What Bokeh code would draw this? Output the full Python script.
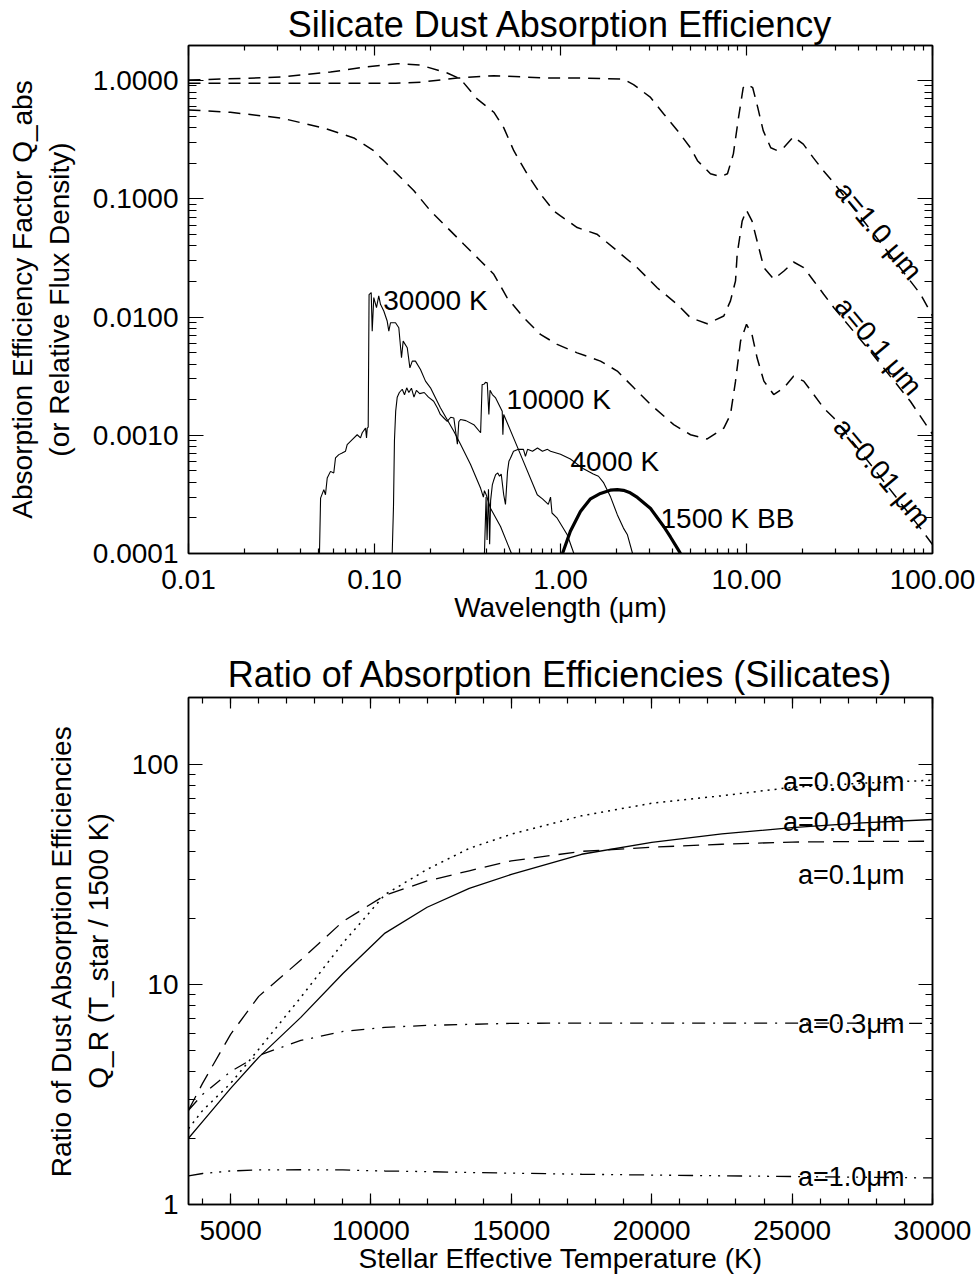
import math
from bokeh.plotting import figure
from bokeh.models import LogAxis, LinearAxis, FixedTicker, PrintfTickFormatter, Range1d
from bokeh.layouts import column
from bokeh.embed import file_html
from bokeh.resources import INLINE
from bokeh.core.properties import value

FONT = "Liberation Sans"

# ---------------- Top panel data (wavelength in micron) ----------------
qa10_wl = [0.01, 0.04, 0.13, 0.177, 0.279, 0.437, 0.851, 1.33, 2.18, 2.47, 3.05, 3.58, 4.26, 5.0, 5.45,
           6.4, 7.25, 7.9, 8.5, 9.06, 9.6, 10.1, 10.8, 11.5, 12.3, 13.5, 14.7, 15.8, 17.9, 20.2, 22.9,
           25.9, 29.4, 46.5, 86.0, 100.0]
qa10_q = [0.95, 0.95, 0.95, 0.97, 1.05, 1.10, 1.05, 1.05, 1.03, 0.925, 0.72, 0.525, 0.377, 0.27, 0.21,
          0.163, 0.154, 0.163, 0.24, 0.486, 0.87, 0.925, 0.87, 0.59, 0.377, 0.27, 0.255, 0.27, 0.335, 0.29,
          0.222, 0.173, 0.137, 0.0546, 0.0157, 0.0102]

qa01_wl = [0.01, 0.0313, 0.058, 0.0914, 0.1325, 0.177, 0.246, 0.29, 0.356, 0.438, 0.495, 0.561, 0.662,
           0.78, 0.92, 1.0, 1.23, 1.57, 2.02, 2.58, 3.31, 4.24, 5.0, 6.15, 7.55, 8.2, 8.73, 8.91, 9.48,
           10.0, 10.7, 11.4, 12.4, 14.0, 15.9, 17.9, 20.3, 23.0, 26.0, 29.5, 46.5, 76.0, 89.8, 100.0]
qa01_q = [1.01, 1.07, 1.18, 1.31, 1.39, 1.35, 1.16, 1.03, 0.70, 0.54, 0.40, 0.255, 0.162,
          0.110, 0.079, 0.0718, 0.0571, 0.0502, 0.0362, 0.0262, 0.0177, 0.0128, 0.00986, 0.00877, 0.0102,
          0.0137, 0.0202, 0.034, 0.065, 0.080, 0.065, 0.044, 0.0262, 0.0209, 0.0245, 0.0292, 0.0262,
          0.0202, 0.0156, 0.0120, 0.00508, 0.00194, 0.00131, 0.00102]

qa001_wl = [0.01, 0.0168, 0.0313, 0.0533, 0.0775, 0.099, 0.127, 0.163, 0.2, 0.246, 0.302, 0.372, 0.438,
            0.516, 0.635, 0.78, 0.96, 1.23, 1.64, 2.02, 2.48, 3.05, 4.06, 5.0, 6.15, 7.55, 8.2, 8.73,
            9.29, 10.0, 10.7, 11.4, 12.4, 14.0, 15.9, 17.9, 20.3, 23.0, 26.0, 29.5, 46.5, 86.0, 100.0]
qa001_q = [0.565, 0.539, 0.483, 0.397, 0.327, 0.255, 0.173, 0.117, 0.079, 0.0571, 0.0413, 0.0298, 0.0230,
           0.0146, 0.00986, 0.00713, 0.00587, 0.00498, 0.00424, 0.00349, 0.00252, 0.00182, 0.00123,
           0.00101, 0.00093, 0.00115, 0.0015, 0.00287, 0.00626, 0.00867, 0.00713, 0.00452, 0.00287,
           0.00221, 0.00252, 0.00316, 0.00287, 0.00221, 0.0017, 0.0014, 0.000565, 0.000164, 0.000119]

s30000_wl = [0.0506, 0.0513, 0.0534, 0.0545, 0.0557, 0.058, 0.0604, 0.0617, 0.0643, 0.067, 0.0698, 0.0713,
             0.0759, 0.0807, 0.0841, 0.0859, 0.0895, 0.0906, 0.0914, 0.0925, 0.0935, 0.096, 0.0972, 0.0991,
             0.1025, 0.1054, 0.1077, 0.1122, 0.117, 0.1194, 0.1219, 0.1297, 0.1351, 0.1397, 0.1426, 0.150,
             0.155, 0.1596, 0.166, 0.1767, 0.188, 0.2, 0.2264, 0.267, 0.29, 0.328, 0.372, 0.385, 0.39,
             0.398, 0.421, 0.476, 0.545]
s30000_f = [1.0e-4, 0.000294, 0.000347, 0.000314, 0.000435, 0.000495, 0.00048, 0.000643, 0.000686, 0.000708,
            0.000732, 0.000833, 0.00092, 0.00101, 0.00095, 0.00105, 0.00115, 0.00095, 0.00115, 0.00117,
            0.0155, 0.0161, 0.0076, 0.0146, 0.012, 0.0151, 0.0128, 0.01125, 0.00925, 0.0076, 0.00895,
            0.00895, 0.00811, 0.00452, 0.00626, 0.0055, 0.00372, 0.00424, 0.00424, 0.0036, 0.00287,
            0.00252, 0.0017, 0.00108, 0.00084, 0.000568, 0.000356, 0.0003, 0.00034, 0.000316, 0.00024,
            0.000169, 1.0e-4]

s10000_wl = [0.1245, 0.1265, 0.128, 0.130, 0.1325, 0.136, 0.141, 0.145, 0.149, 0.153, 0.158, 0.163, 0.168,
             0.175, 0.185, 0.195, 0.208, 0.218, 0.226, 0.236, 0.246, 0.257, 0.267, 0.279, 0.284, 0.29,
             0.31, 0.342, 0.372, 0.379, 0.387, 0.395, 0.404, 0.412, 0.418, 0.43, 0.448, 0.486, 0.49,
             0.495, 0.61, 0.75, 0.80, 0.86, 0.884, 0.9, 0.96, 1.087, 1.18]
s10000_f = [1.0e-4, 0.00025, 0.0009, 0.0016, 0.0021, 0.0023, 0.00245, 0.0022, 0.00252, 0.0023, 0.0025,
            0.0021, 0.0024, 0.00225, 0.0023, 0.0021, 0.00194, 0.0017, 0.0015, 0.0014, 0.00131, 0.00142,
            0.0014, 0.00084, 0.0013, 0.00136, 0.00133, 0.00123, 0.00105, 0.00269, 0.0027, 0.0028, 0.00278,
            0.0015, 0.0024, 0.00221, 0.00207, 0.0016, 0.00101, 0.0015, 0.000686, 0.000314, 0.00029,
            0.00026, 0.0003, 0.00022, 0.000199, 0.000144, 1.0e-4]

s4000_wl = [0.39, 0.398, 0.403, 0.41, 0.416, 0.421, 0.43, 0.436, 0.448, 0.46, 0.47, 0.48, 0.495, 0.506,
            0.519, 0.528, 0.538, 0.559, 0.594, 0.632, 0.648, 0.665, 0.707, 0.752, 0.80, 0.851, 0.884, 1.0,
            1.13, 1.33, 1.5, 1.6, 1.70, 1.86, 2.02, 2.18, 2.29, 2.44]
s4000_f = [1.0e-4, 0.0003, 0.00013, 0.00035, 0.00012, 0.00028, 0.00038, 0.00041, 0.000465, 0.00048,
           0.00045, 0.00047, 0.000314, 0.00026, 0.000495, 0.000602, 0.000638, 0.000732, 0.00076, 0.00076,
           0.000664, 0.00076, 0.000732, 0.00078, 0.000732, 0.00076, 0.000732, 0.00069, 0.00063, 0.00052,
           0.00047, 0.00045, 0.0004, 0.0003, 0.000213, 0.000164, 0.000144, 1.0e-4]

bb1500_wl = [1.025, 1.13, 1.28, 1.45, 1.64, 1.85, 2.02, 2.18, 2.37, 2.59, 3.05, 3.58, 3.90, 4.26, 4.42]
bb1500_f = [1.0e-4, 0.000154, 0.000227, 0.000290, 0.000322, 0.000343, 0.000347, 0.000342, 0.000326,
            0.000298, 0.000240, 0.000170, 0.000138, 0.000110, 1.0e-4]

# top panel ticks
wl_major = [0.01, 0.1, 1.0, 10.0, 100.0]
wl_minor = [m * 10.0 ** e for e in range(-2, 2) for m in range(2, 10)]
q_major = [0.0001, 0.001, 0.01, 0.1, 1.0]
q_minor = [m * 10.0 ** e for e in range(-4, 0) for m in range(2, 10)]

# top panel annotations
spec_labels = ["30000 K", "10000 K", "4000 K", "1500 K BB"]
spec_label_x = [0.1115, 0.513, 1.132, 3.45]
spec_label_y = [0.01367, 0.00202, 0.000602, 0.000198]
size_labels = ["a=1.0 μm", "a=0.1 μm", "a=0.01 μm"]
size_label_x = [51.3, 51.3, 53.7]
size_label_y = [0.0536, 0.00568, 0.00048]

# ---------------- Bottom panel data ----------------
teff = [3500, 4000, 5000, 6000, 7500, 9000, 10500, 12000, 13500, 15000, 17500, 20000, 22500, 25000,
        27500, 30000]
qr_a001 = [2.0, 2.38, 3.37, 4.66, 7.08, 11.2, 17.1, 22.4, 27.3, 31.6, 39.0, 44.2, 48.3, 51.5, 54.2, 56.1]
qr_a003 = [2.21, 2.67, 3.55, 5.07, 8.73, 15.4, 25.6, 33.3, 41.5, 48.1, 58.3, 66.5, 71.9, 78.6, 82.0, 84.6]
qr_a01 = [2.68, 3.55, 5.93, 8.82, 12.9, 19.3, 25.4, 29.5, 32.8, 36.4, 40.2, 42.0, 43.3, 44.3, 44.6, 44.7]
qr_a03 = [2.68, 3.16, 4.02, 4.76, 5.56, 6.11, 6.38, 6.51, 6.58, 6.65, 6.67, 6.67, 6.67, 6.67, 6.66, 6.65]
qr_a10 = [1.348, 1.383, 1.42, 1.435, 1.438, 1.435, 1.42, 1.41, 1.398, 1.388, 1.372, 1.361, 1.35, 1.34,
          1.33, 1.32]

t_major = [5000, 10000, 15000, 20000, 25000, 30000]
t_minor = list(range(4000, 30001, 1000))
qr_major = [1, 10, 100]
qr_minor = [m * 10 ** e for e in range(0, 2) for m in range(2, 10)] + [200]

ratio_labels = ["a=0.03μm", "a=0.01μm", "a=0.1μm", "a=0.3μm", "a=1.0μm"]
ratio_label_x = [29000, 29000, 29000, 29000, 29000]
ratio_label_y = [83.1, 54.7, 31.3, 6.63, 1.33]


def style_axis(ax, size, tick_in, minor_in, standoff, label_standoff):
    ax.major_tick_in = tick_in
    ax.major_tick_out = 0
    ax.minor_tick_in = minor_in
    ax.minor_tick_out = 0
    ax.axis_line_color = "black"
    ax.axis_line_width = 1.5
    ax.major_tick_line_color = "black"
    ax.major_tick_line_width = 1.2
    ax.minor_tick_line_color = "black"
    ax.minor_tick_line_width = 1.2
    ax.major_label_text_font = FONT
    ax.major_label_text_font_size = size
    ax.major_label_text_color = "black"
    ax.major_label_standoff = standoff
    ax.axis_label_text_font = FONT
    ax.axis_label_text_font_size = "28px"
    ax.axis_label_text_font_style = "normal"
    ax.axis_label_text_color = "black"
    ax.axis_label_standoff = label_standoff


def mirror_axis(cls, ticks, minors, tick_in, minor_in):
    ax = cls(ticker=FixedTicker(ticks=ticks, minor_ticks=minors))
    style_axis(ax, "1px", tick_in, minor_in, 0, 0)
    ax.major_label_text_alpha = 0.0
    return ax


def style_title(p, text, standoff):
    p.title.text = text
    p.title.align = "center"
    p.title.text_font = FONT
    p.title.text_font_size = "36px"
    p.title.text_font_style = "normal"
    p.title.text_color = "black"
    p.title.standoff = standoff


# ================= TOP FIGURE =================
p1 = figure(width=979, height=630, x_axis_type="log", y_axis_type="log",
            x_range=Range1d(0.01, 100), y_range=Range1d(1e-4, 1.98),
            output_backend="svg", toolbar_location=None,
            min_border_left=188, min_border_right=47, min_border_top=45, min_border_bottom=77)
style_title(p1, "Silicate Dust Absorption Efficiency", 1)
p1.grid.visible = False
p1.outline_line_color = "black"
p1.outline_line_width = 1.5

xa = p1.xaxis[0]
xa.ticker = FixedTicker(ticks=wl_major, minor_ticks=wl_minor)
xa.formatter = PrintfTickFormatter(format="%.2f")
xa.axis_label = "Wavelength (μm)"
style_axis(xa, "28px", 10, 5, 16, 0)

ya = p1.yaxis[0]
ya.ticker = FixedTicker(ticks=q_major, minor_ticks=q_minor)
ya.formatter = PrintfTickFormatter(format="%.4f")
ya.axis_label = "Absorption Efficiency Factor Q_abs\n(or Relative Flux Density)"
style_axis(ya, "28px", 15, 8, 10, 15)

p1.add_layout(mirror_axis(LogAxis, wl_major, wl_minor, 10, 5), "above")
p1.add_layout(mirror_axis(LogAxis, q_major, q_minor, 15, 8), "right")

for wl, q in [(qa10_wl, qa10_q), (qa01_wl, qa01_q), (qa001_wl, qa001_q)]:
    p1.line(wl, q, line_color="black", line_width=1.5, line_dash="12 8")
for wl, f in [(s30000_wl, s30000_f), (s10000_wl, s10000_f), (s4000_wl, s4000_f)]:
    p1.line(wl, f, line_color="black", line_width=1.1)
p1.line(bb1500_wl, bb1500_f, line_color="black", line_width=3.2)

p1.text(x=spec_label_x, y=spec_label_y, text=spec_labels, text_font=value(FONT),
        text_font_size=value("28px"), text_align="left", text_baseline="alphabetic", text_color="black")
p1.text(x=size_label_x, y=size_label_y, text=size_labels, text_font=value(FONT),
        text_font_size=value("28px"), text_align="center", text_baseline="middle",
        angle=-50 * math.pi / 180, text_color="black")

# ================= BOTTOM FIGURE =================
p2 = figure(width=979, height=649, y_axis_type="log",
            x_range=Range1d(3500, 30000), y_range=Range1d(1, 201),
            output_backend="svg", toolbar_location=None,
            min_border_left=188, min_border_right=47, min_border_top=67, min_border_bottom=75)
style_title(p2, "Ratio of Absorption Efficiencies (Silicates)", 6)
p2.grid.visible = False
p2.outline_line_color = "black"
p2.outline_line_width = 1.5

xb = p2.xaxis[0]
xb.ticker = FixedTicker(ticks=t_major, minor_ticks=t_minor)
xb.formatter = PrintfTickFormatter(format="%d")
xb.axis_label = "Stellar Effective Temperature (K)"
style_axis(xb, "28px", 11, 6, 16, 0)

yb = p2.yaxis[0]
yb.ticker = FixedTicker(ticks=qr_major, minor_ticks=qr_minor)
yb.formatter = PrintfTickFormatter(format="%d")
yb.axis_label = "Ratio of Dust Absorption Efficiencies\nQ_R (T_star / 1500 K)"
style_axis(yb, "28px", 14, 7, 10, 15)

p2.add_layout(mirror_axis(LinearAxis, t_major, t_minor, 11, 6), "above")
p2.add_layout(mirror_axis(LogAxis, qr_major, qr_minor, 14, 7), "right")

p2.line(teff, qr_a001, line_color="black", line_width=1.3)
p2.line(teff, qr_a003, line_color="black", line_width=1.5, line_dash="2 5")
p2.line(teff, qr_a01, line_color="black", line_width=1.3, line_dash="16 9")
p2.line(teff, qr_a03, line_color="black", line_width=1.3, line_dash="13 8 2 8")
p2.line(teff, qr_a10, line_color="black", line_width=1.3, line_dash="15 7 2 7 2 7 2 7")

p2.text(x=ratio_label_x, y=ratio_label_y, text=ratio_labels, text_font=value(FONT),
        text_font_size=value("27px"), text_align="right", text_baseline="alphabetic", text_color="black")

layout = column(p1, p2)
open("out.html", "w").write(file_html(layout, INLINE))
